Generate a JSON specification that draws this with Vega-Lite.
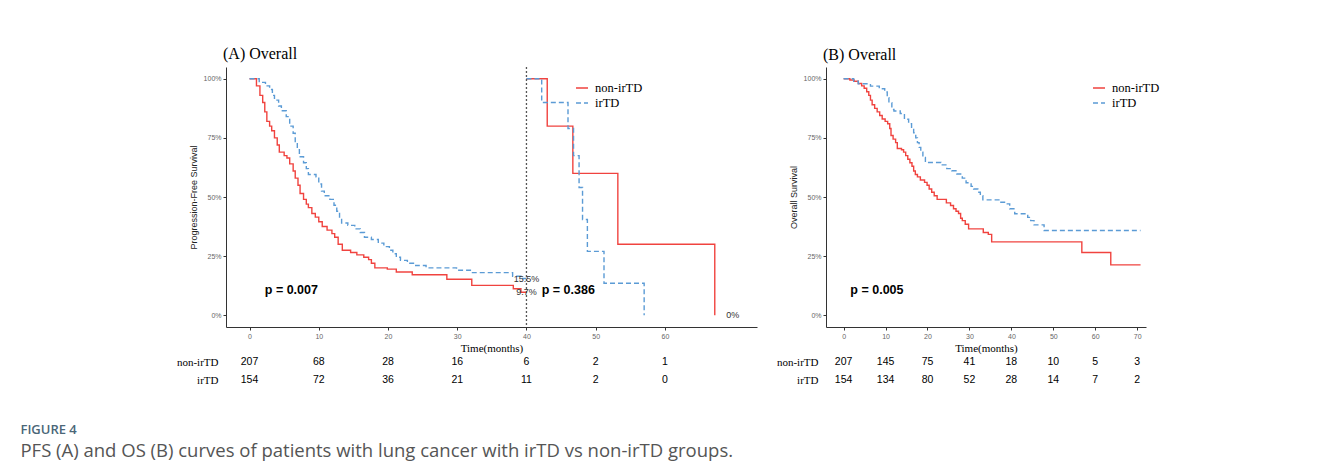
{
  "$schema": "https://vega.github.io/schema/vega-lite/v6.json",
  "padding": {"left": 20, "top": 46, "right": 5, "bottom": 5},
  "background": "white",
  "config": {
    "view": {"stroke": null},
    "axis": {
      "grid": false,
      "domainColor": "#333333",
      "tickColor": "#333333",
      "tickSize": 3,
      "labelColor": "#666666",
      "labelFont": "Liberation Sans",
      "labelFontSize": 7,
      "labelPadding": 2,
      "titleFont": "Liberation Sans",
      "titleFontSize": 9,
      "titleFontWeight": "normal",
      "titleColor": "#222222"
    }
  },
  "title": {
    "text": "FIGURE 4",
    "subtitle": "PFS (A) and OS (B) curves of patients with lung cancer with irTD vs non-irTD groups.",
    "orient": "bottom",
    "anchor": "start",
    "dx": -156,
    "offset": 35,
    "font": "Open Sans",
    "fontSize": 13,
    "fontWeight": 600,
    "color": "#4b6778",
    "subtitleFont": "Open Sans",
    "subtitleFontSize": 18.5,
    "subtitleColor": "#555555",
    "subtitlePadding": 5
  },
  "datasets": {
    "kmA": [
      {"group": "non-irTD", "seg": "A1n", "t": 0, "s": 1.0},
      {"group": "non-irTD", "seg": "A1n", "t": 1.0, "s": 0.97},
      {"group": "non-irTD", "seg": "A1n", "t": 1.5, "s": 0.93},
      {"group": "non-irTD", "seg": "A1n", "t": 1.9, "s": 0.90},
      {"group": "non-irTD", "seg": "A1n", "t": 2.2, "s": 0.86},
      {"group": "non-irTD", "seg": "A1n", "t": 2.5, "s": 0.82},
      {"group": "non-irTD", "seg": "A1n", "t": 2.9, "s": 0.80},
      {"group": "non-irTD", "seg": "A1n", "t": 3.2, "s": 0.78},
      {"group": "non-irTD", "seg": "A1n", "t": 3.6, "s": 0.75},
      {"group": "non-irTD", "seg": "A1n", "t": 4.0, "s": 0.72},
      {"group": "non-irTD", "seg": "A1n", "t": 4.3, "s": 0.69},
      {"group": "non-irTD", "seg": "A1n", "t": 5.0, "s": 0.675},
      {"group": "non-irTD", "seg": "A1n", "t": 5.4, "s": 0.665},
      {"group": "non-irTD", "seg": "A1n", "t": 5.8, "s": 0.64},
      {"group": "non-irTD", "seg": "A1n", "t": 6.3, "s": 0.61},
      {"group": "non-irTD", "seg": "A1n", "t": 6.6, "s": 0.58},
      {"group": "non-irTD", "seg": "A1n", "t": 7.0, "s": 0.55},
      {"group": "non-irTD", "seg": "A1n", "t": 7.3, "s": 0.515},
      {"group": "non-irTD", "seg": "A1n", "t": 7.8, "s": 0.49},
      {"group": "non-irTD", "seg": "A1n", "t": 8.2, "s": 0.47},
      {"group": "non-irTD", "seg": "A1n", "t": 8.5, "s": 0.455},
      {"group": "non-irTD", "seg": "A1n", "t": 9.0, "s": 0.43},
      {"group": "non-irTD", "seg": "A1n", "t": 9.5, "s": 0.415},
      {"group": "non-irTD", "seg": "A1n", "t": 10.0, "s": 0.395},
      {"group": "non-irTD", "seg": "A1n", "t": 10.5, "s": 0.375},
      {"group": "non-irTD", "seg": "A1n", "t": 11.2, "s": 0.36},
      {"group": "non-irTD", "seg": "A1n", "t": 11.9, "s": 0.345},
      {"group": "non-irTD", "seg": "A1n", "t": 12.3, "s": 0.33},
      {"group": "non-irTD", "seg": "A1n", "t": 12.8, "s": 0.30},
      {"group": "non-irTD", "seg": "A1n", "t": 13.4, "s": 0.275},
      {"group": "non-irTD", "seg": "A1n", "t": 14.6, "s": 0.265},
      {"group": "non-irTD", "seg": "A1n", "t": 15.5, "s": 0.255},
      {"group": "non-irTD", "seg": "A1n", "t": 16.5, "s": 0.245},
      {"group": "non-irTD", "seg": "A1n", "t": 17.2, "s": 0.235},
      {"group": "non-irTD", "seg": "A1n", "t": 17.6, "s": 0.22},
      {"group": "non-irTD", "seg": "A1n", "t": 18.1, "s": 0.20},
      {"group": "non-irTD", "seg": "A1n", "t": 19.9, "s": 0.195},
      {"group": "non-irTD", "seg": "A1n", "t": 21.2, "s": 0.183},
      {"group": "non-irTD", "seg": "A1n", "t": 23.5, "s": 0.171},
      {"group": "non-irTD", "seg": "A1n", "t": 28.5, "s": 0.152},
      {"group": "non-irTD", "seg": "A1n", "t": 32.1, "s": 0.126},
      {"group": "non-irTD", "seg": "A1n", "t": 38.1, "s": 0.112},
      {"group": "non-irTD", "seg": "A1n", "t": 39.2, "s": 0.097},
      {"group": "non-irTD", "seg": "A1n", "t": 40, "s": 0.097},
      {"group": "irTD", "seg": "A1i", "t": 0, "s": 1.0},
      {"group": "irTD", "seg": "A1i", "t": 1.4, "s": 0.985},
      {"group": "irTD", "seg": "A1i", "t": 2.3, "s": 0.97},
      {"group": "irTD", "seg": "A1i", "t": 2.9, "s": 0.955},
      {"group": "irTD", "seg": "A1i", "t": 3.3, "s": 0.93},
      {"group": "irTD", "seg": "A1i", "t": 3.6, "s": 0.91},
      {"group": "irTD", "seg": "A1i", "t": 4.2, "s": 0.885},
      {"group": "irTD", "seg": "A1i", "t": 4.6, "s": 0.865},
      {"group": "irTD", "seg": "A1i", "t": 5.3, "s": 0.84},
      {"group": "irTD", "seg": "A1i", "t": 5.8, "s": 0.80},
      {"group": "irTD", "seg": "A1i", "t": 6.3, "s": 0.77},
      {"group": "irTD", "seg": "A1i", "t": 6.6, "s": 0.73},
      {"group": "irTD", "seg": "A1i", "t": 6.9, "s": 0.70},
      {"group": "irTD", "seg": "A1i", "t": 7.2, "s": 0.67},
      {"group": "irTD", "seg": "A1i", "t": 7.8, "s": 0.645},
      {"group": "irTD", "seg": "A1i", "t": 8.2, "s": 0.62},
      {"group": "irTD", "seg": "A1i", "t": 8.5, "s": 0.595},
      {"group": "irTD", "seg": "A1i", "t": 9.6, "s": 0.585},
      {"group": "irTD", "seg": "A1i", "t": 10.0, "s": 0.555},
      {"group": "irTD", "seg": "A1i", "t": 10.4, "s": 0.525},
      {"group": "irTD", "seg": "A1i", "t": 10.8, "s": 0.505},
      {"group": "irTD", "seg": "A1i", "t": 11.6, "s": 0.49},
      {"group": "irTD", "seg": "A1i", "t": 12.2, "s": 0.465},
      {"group": "irTD", "seg": "A1i", "t": 12.6, "s": 0.44},
      {"group": "irTD", "seg": "A1i", "t": 13.0, "s": 0.41},
      {"group": "irTD", "seg": "A1i", "t": 13.3, "s": 0.39},
      {"group": "irTD", "seg": "A1i", "t": 14.2, "s": 0.38},
      {"group": "irTD", "seg": "A1i", "t": 15.2, "s": 0.365},
      {"group": "irTD", "seg": "A1i", "t": 16.0, "s": 0.35},
      {"group": "irTD", "seg": "A1i", "t": 16.6, "s": 0.33},
      {"group": "irTD", "seg": "A1i", "t": 17.6, "s": 0.32},
      {"group": "irTD", "seg": "A1i", "t": 18.6, "s": 0.305},
      {"group": "irTD", "seg": "A1i", "t": 19.4, "s": 0.29},
      {"group": "irTD", "seg": "A1i", "t": 20.2, "s": 0.275},
      {"group": "irTD", "seg": "A1i", "t": 20.7, "s": 0.26},
      {"group": "irTD", "seg": "A1i", "t": 21.2, "s": 0.245},
      {"group": "irTD", "seg": "A1i", "t": 21.8, "s": 0.232},
      {"group": "irTD", "seg": "A1i", "t": 22.8, "s": 0.22},
      {"group": "irTD", "seg": "A1i", "t": 24.0, "s": 0.21},
      {"group": "irTD", "seg": "A1i", "t": 25.5, "s": 0.20},
      {"group": "irTD", "seg": "A1i", "t": 29.9, "s": 0.19},
      {"group": "irTD", "seg": "A1i", "t": 32.2, "s": 0.18},
      {"group": "irTD", "seg": "A1i", "t": 38.0, "s": 0.165},
      {"group": "irTD", "seg": "A1i", "t": 39.2, "s": 0.155},
      {"group": "irTD", "seg": "A1i", "t": 40, "s": 0.155},
      {"group": "non-irTD", "seg": "A2n", "t": 40, "s": 1.0},
      {"group": "non-irTD", "seg": "A2n", "t": 43.0, "s": 0.80},
      {"group": "non-irTD", "seg": "A2n", "t": 46.7, "s": 0.60},
      {"group": "non-irTD", "seg": "A2n", "t": 53.2, "s": 0.30},
      {"group": "non-irTD", "seg": "A2n", "t": 67.2, "s": 0.0},
      {"group": "irTD", "seg": "A2i", "t": 40, "s": 1.0},
      {"group": "irTD", "seg": "A2i", "t": 42.2, "s": 0.90},
      {"group": "irTD", "seg": "A2i", "t": 46.0, "s": 0.79},
      {"group": "irTD", "seg": "A2i", "t": 46.8, "s": 0.675},
      {"group": "irTD", "seg": "A2i", "t": 47.6, "s": 0.54},
      {"group": "irTD", "seg": "A2i", "t": 48.1, "s": 0.405},
      {"group": "irTD", "seg": "A2i", "t": 48.8, "s": 0.27},
      {"group": "irTD", "seg": "A2i", "t": 51.2, "s": 0.135},
      {"group": "irTD", "seg": "A2i", "t": 57.0, "s": 0.0}
    ],
    "kmB": [
      {"group": "non-irTD", "t": 0, "s": 1.0},
      {"group": "non-irTD", "t": 1.5, "s": 0.995},
      {"group": "non-irTD", "t": 2.5, "s": 0.99},
      {"group": "non-irTD", "t": 3.5, "s": 0.98},
      {"group": "non-irTD", "t": 4.3, "s": 0.97},
      {"group": "non-irTD", "t": 4.9, "s": 0.96},
      {"group": "non-irTD", "t": 5.5, "s": 0.945},
      {"group": "non-irTD", "t": 6.0, "s": 0.93},
      {"group": "non-irTD", "t": 6.4, "s": 0.91},
      {"group": "non-irTD", "t": 6.8, "s": 0.89},
      {"group": "non-irTD", "t": 7.4, "s": 0.875},
      {"group": "non-irTD", "t": 8.0, "s": 0.86},
      {"group": "non-irTD", "t": 8.6, "s": 0.845},
      {"group": "non-irTD", "t": 9.2, "s": 0.83},
      {"group": "non-irTD", "t": 9.9, "s": 0.82},
      {"group": "non-irTD", "t": 10.5, "s": 0.81},
      {"group": "non-irTD", "t": 11.0, "s": 0.79},
      {"group": "non-irTD", "t": 11.3, "s": 0.76},
      {"group": "non-irTD", "t": 11.8, "s": 0.745},
      {"group": "non-irTD", "t": 12.4, "s": 0.73},
      {"group": "non-irTD", "t": 12.8, "s": 0.705},
      {"group": "non-irTD", "t": 13.8, "s": 0.70},
      {"group": "non-irTD", "t": 14.3, "s": 0.69},
      {"group": "non-irTD", "t": 14.8, "s": 0.675},
      {"group": "non-irTD", "t": 15.3, "s": 0.66},
      {"group": "non-irTD", "t": 15.8, "s": 0.645},
      {"group": "non-irTD", "t": 16.3, "s": 0.63},
      {"group": "non-irTD", "t": 16.7, "s": 0.61},
      {"group": "non-irTD", "t": 17.1, "s": 0.595},
      {"group": "non-irTD", "t": 17.6, "s": 0.585},
      {"group": "non-irTD", "t": 18.3, "s": 0.572},
      {"group": "non-irTD", "t": 19.3, "s": 0.562},
      {"group": "non-irTD", "t": 19.9, "s": 0.55},
      {"group": "non-irTD", "t": 20.4, "s": 0.534},
      {"group": "non-irTD", "t": 21.0, "s": 0.52},
      {"group": "non-irTD", "t": 21.6, "s": 0.505},
      {"group": "non-irTD", "t": 22.3, "s": 0.49},
      {"group": "non-irTD", "t": 24.5, "s": 0.475},
      {"group": "non-irTD", "t": 25.5, "s": 0.464},
      {"group": "non-irTD", "t": 26.2, "s": 0.45},
      {"group": "non-irTD", "t": 26.8, "s": 0.44},
      {"group": "non-irTD", "t": 27.4, "s": 0.43},
      {"group": "non-irTD", "t": 27.9, "s": 0.41},
      {"group": "non-irTD", "t": 28.3, "s": 0.40},
      {"group": "non-irTD", "t": 29.0, "s": 0.385},
      {"group": "non-irTD", "t": 29.8, "s": 0.365},
      {"group": "non-irTD", "t": 33.3, "s": 0.35},
      {"group": "non-irTD", "t": 34.5, "s": 0.342},
      {"group": "non-irTD", "t": 35.3, "s": 0.31},
      {"group": "non-irTD", "t": 56.8, "s": 0.265},
      {"group": "non-irTD", "t": 63.7, "s": 0.213},
      {"group": "non-irTD", "t": 70.8, "s": 0.213},
      {"group": "irTD", "t": 0, "s": 1.0},
      {"group": "irTD", "t": 2.4, "s": 0.99},
      {"group": "irTD", "t": 3.5, "s": 0.979},
      {"group": "irTD", "t": 6.4, "s": 0.969},
      {"group": "irTD", "t": 8.5, "s": 0.958},
      {"group": "irTD", "t": 9.8, "s": 0.944},
      {"group": "irTD", "t": 10.4, "s": 0.92},
      {"group": "irTD", "t": 10.8, "s": 0.899},
      {"group": "irTD", "t": 11.5, "s": 0.87},
      {"group": "irTD", "t": 12.0, "s": 0.864},
      {"group": "irTD", "t": 13.5, "s": 0.853},
      {"group": "irTD", "t": 14.5, "s": 0.829},
      {"group": "irTD", "t": 15.5, "s": 0.81},
      {"group": "irTD", "t": 16.2, "s": 0.79},
      {"group": "irTD", "t": 16.7, "s": 0.772},
      {"group": "irTD", "t": 17.2, "s": 0.75},
      {"group": "irTD", "t": 17.6, "s": 0.73},
      {"group": "irTD", "t": 18.0, "s": 0.71},
      {"group": "irTD", "t": 18.4, "s": 0.69},
      {"group": "irTD", "t": 18.9, "s": 0.667},
      {"group": "irTD", "t": 19.5, "s": 0.646},
      {"group": "irTD", "t": 23.2, "s": 0.636},
      {"group": "irTD", "t": 24.6, "s": 0.62},
      {"group": "irTD", "t": 25.8, "s": 0.611},
      {"group": "irTD", "t": 27.0, "s": 0.597},
      {"group": "irTD", "t": 28.3, "s": 0.58},
      {"group": "irTD", "t": 29.2, "s": 0.56},
      {"group": "irTD", "t": 30.4, "s": 0.545},
      {"group": "irTD", "t": 31.0, "s": 0.534},
      {"group": "irTD", "t": 32.0, "s": 0.52},
      {"group": "irTD", "t": 32.6, "s": 0.506},
      {"group": "irTD", "t": 33.2, "s": 0.488},
      {"group": "irTD", "t": 37.5, "s": 0.478},
      {"group": "irTD", "t": 38.6, "s": 0.471},
      {"group": "irTD", "t": 39.6, "s": 0.45},
      {"group": "irTD", "t": 40.8, "s": 0.429},
      {"group": "irTD", "t": 43.9, "s": 0.414},
      {"group": "irTD", "t": 44.6, "s": 0.40},
      {"group": "irTD", "t": 45.4, "s": 0.382},
      {"group": "irTD", "t": 47.8, "s": 0.358},
      {"group": "irTD", "t": 70.8, "s": 0.358}
    ],
    "riskA": [
      {"group": "non-irTD", "t": 0, "n": 207},
      {"group": "non-irTD", "t": 10, "n": 68},
      {"group": "non-irTD", "t": 20, "n": 28},
      {"group": "non-irTD", "t": 30, "n": 16},
      {"group": "non-irTD", "t": 40, "n": 6},
      {"group": "non-irTD", "t": 50, "n": 2},
      {"group": "non-irTD", "t": 60, "n": 1},
      {"group": "irTD", "t": 0, "n": 154},
      {"group": "irTD", "t": 10, "n": 72},
      {"group": "irTD", "t": 20, "n": 36},
      {"group": "irTD", "t": 30, "n": 21},
      {"group": "irTD", "t": 40, "n": 11},
      {"group": "irTD", "t": 50, "n": 2},
      {"group": "irTD", "t": 60, "n": 0}
    ],
    "riskB": [
      {"group": "non-irTD", "t": 0, "n": 207},
      {"group": "non-irTD", "t": 10, "n": 145},
      {"group": "non-irTD", "t": 20, "n": 75},
      {"group": "non-irTD", "t": 30, "n": 41},
      {"group": "non-irTD", "t": 40, "n": 18},
      {"group": "non-irTD", "t": 50, "n": 10},
      {"group": "non-irTD", "t": 60, "n": 5},
      {"group": "non-irTD", "t": 70, "n": 3},
      {"group": "irTD", "t": 0, "n": 154},
      {"group": "irTD", "t": 10, "n": 134},
      {"group": "irTD", "t": 20, "n": 80},
      {"group": "irTD", "t": 30, "n": 52},
      {"group": "irTD", "t": 40, "n": 28},
      {"group": "irTD", "t": 50, "n": 14},
      {"group": "irTD", "t": 60, "n": 7},
      {"group": "irTD", "t": 70, "n": 2}
    ]
  },
  "spacing": 19,
  "resolve": {
    "scale": {"color": "independent", "strokeDash": "independent"},
    "legend": {"color": "independent", "strokeDash": "independent"}
  },
  "hconcat": [
    {
      "spacing": 0,
      "resolve": {"legend": {"color": "independent", "strokeDash": "independent"}},
      "vconcat": [
        {
          "width": 531,
          "height": 260,
          "title": {"text": "(A) Overall", "anchor": "start", "frame": "group", "font": "Liberation Serif", "fontSize": 16, "fontWeight": "normal", "color": "black", "offset": 4, "dx": -3},
          "layer": [
            {
              "data": {"name": "kmA"},
              "mark": {"type": "line", "interpolate": "step-after", "strokeWidth": 1.4},
              "encoding": {
                "x": {"field": "t", "type": "quantitative", "scale": {"domain": [-3.4, 73.3], "nice": false, "zero": false},
                      "axis": {"values": [0, 10, 20, 30, 40, 50, 60], "title": "Time(months)", "titleFont": "Liberation Serif", "titleFontSize": 11, "titleColor": "black", "titlePadding": 3}},
                "y": {"field": "s", "type": "quantitative", "scale": {"domain": [-0.05, 1.05], "nice": false},
                      "axis": {"values": [0, 0.25, 0.5, 0.75, 1], "format": ".0%", "title": "Progression-Free Survival", "titlePadding": 5}},
                "color": {"field": "group", "type": "nominal", "scale": {"domain": ["non-irTD", "irTD"], "range": ["#F0433F", "#5B9BD5"]},
                          "legend": {"title": null, "orient": "none", "legendX": 349, "legendY": 14, "labelFont": "Liberation Serif", "labelFontSize": 12.5, "labelColor": "black", "symbolType": "stroke", "symbolSize": 144, "symbolStrokeWidth": 1.5, "rowPadding": 1, "labelOffset": 6}},
                "strokeDash": {"field": "group", "type": "nominal", "scale": {"domain": ["non-irTD", "irTD"], "range": [[1, 0], [5, 3]]},
                          "legend": {"title": null, "orient": "none", "legendX": 349, "legendY": 14, "labelFont": "Liberation Serif", "labelFontSize": 12.5, "labelColor": "black", "symbolType": "stroke", "symbolSize": 144, "symbolStrokeWidth": 1.5, "rowPadding": 1, "labelOffset": 6}},
                "detail": {"field": "seg"}
              }
            },
            {
              "data": {"values": [{}]},
              "mark": {"type": "rule", "strokeDash": [2, 2], "color": "#555555", "strokeWidth": 1.3},
              "encoding": {"x": {"datum": 40}}
            },
            {
              "data": {"values": [{}]},
              "mark": {"type": "text", "text": "p =  0.007", "font": "Liberation Sans", "fontWeight": "bold", "fontSize": 12.5, "align": "left", "color": "black"},
              "encoding": {"x": {"datum": 2.2}, "y": {"datum": 0.108}}
            },
            {
              "data": {"values": [{}]},
              "mark": {"type": "text", "text": "p =  0.386", "font": "Liberation Sans", "fontWeight": "bold", "fontSize": 12.5, "align": "left", "color": "black"},
              "encoding": {"x": {"datum": 42.2}, "y": {"datum": 0.108}}
            },
            {
              "data": {"values": [{}]},
              "mark": {"type": "text", "text": "15.5%", "font": "Liberation Sans", "fontSize": 9, "align": "center", "color": "#333333"},
              "encoding": {"x": {"datum": 40}, "y": {"datum": 0.155}}
            },
            {
              "data": {"values": [{}]},
              "mark": {"type": "text", "text": "9.7%", "font": "Liberation Sans", "fontSize": 9, "align": "center", "color": "#333333"},
              "encoding": {"x": {"datum": 40}, "y": {"datum": 0.097}}
            },
            {
              "data": {"values": [{}]},
              "mark": {"type": "text", "text": "0%", "font": "Liberation Sans", "fontSize": 9, "align": "center", "color": "#333333"},
              "encoding": {"x": {"datum": 69.8}, "y": {"datum": 0}}
            }
          ]
        },
        {
          "data": {"name": "riskA"},
          "width": 531,
          "height": 36,
          "mark": {"type": "text", "font": "Liberation Sans", "fontSize": 10.5, "color": "black"},
          "encoding": {
            "x": {"field": "t", "type": "quantitative", "scale": {"domain": [-3.4, 73.3], "nice": false, "zero": false}, "axis": null},
            "y": {"field": "group", "type": "nominal", "sort": ["non-irTD", "irTD"],
                  "axis": {"title": null, "domain": false, "ticks": false, "labelFont": "Liberation Serif", "labelFontSize": 11, "labelColor": "black", "labelPadding": 8}},
            "text": {"field": "n", "type": "quantitative"}
          }
        }
      ]
    },
    {
      "spacing": 0,
      "resolve": {"legend": {"color": "independent", "strokeDash": "independent"}},
      "vconcat": [
        {
          "width": 320,
          "height": 260,
          "title": {"text": "(B) Overall", "anchor": "start", "frame": "group", "font": "Liberation Serif", "fontSize": 16, "fontWeight": "normal", "color": "black", "offset": 4, "dx": -3},
          "layer": [
            {
              "data": {"name": "kmB"},
              "mark": {"type": "line", "interpolate": "step-after", "strokeWidth": 1.4},
              "encoding": {
                "x": {"field": "t", "type": "quantitative", "scale": {"domain": [-4.2, 72.1], "nice": false, "zero": false},
                      "axis": {"values": [0, 10, 20, 30, 40, 50, 60, 70], "title": "Time(months)", "titleFont": "Liberation Serif", "titleFontSize": 11, "titleColor": "black", "titlePadding": 3}},
                "y": {"field": "s", "type": "quantitative", "scale": {"domain": [-0.05, 1.05], "nice": false},
                      "axis": {"values": [0, 0.25, 0.5, 0.75, 1], "format": ".0%", "title": "Overall Survival", "titlePadding": 5}},
                "color": {"field": "group", "type": "nominal", "scale": {"domain": ["non-irTD", "irTD"], "range": ["#F0433F", "#5B9BD5"]},
                          "legend": {"title": null, "orient": "none", "legendX": 266, "legendY": 14, "labelFont": "Liberation Serif", "labelFontSize": 12.5, "labelColor": "black", "symbolType": "stroke", "symbolSize": 144, "symbolStrokeWidth": 1.5, "rowPadding": 1, "labelOffset": 6}},
                "strokeDash": {"field": "group", "type": "nominal", "scale": {"domain": ["non-irTD", "irTD"], "range": [[1, 0], [5, 3]]},
                          "legend": {"title": null, "orient": "none", "legendX": 266, "legendY": 14, "labelFont": "Liberation Serif", "labelFontSize": 12.5, "labelColor": "black", "symbolType": "stroke", "symbolSize": 144, "symbolStrokeWidth": 1.5, "rowPadding": 1, "labelOffset": 6}}
              }
            },
            {
              "data": {"values": [{}]},
              "mark": {"type": "text", "text": "p =  0.005", "font": "Liberation Sans", "fontWeight": "bold", "fontSize": 12.5, "align": "left", "color": "black"},
              "encoding": {"x": {"datum": 1.6}, "y": {"datum": 0.108}}
            }
          ]
        },
        {
          "data": {"name": "riskB"},
          "width": 320,
          "height": 36,
          "mark": {"type": "text", "font": "Liberation Sans", "fontSize": 10.5, "color": "black"},
          "encoding": {
            "x": {"field": "t", "type": "quantitative", "scale": {"domain": [-4.2, 72.1], "nice": false, "zero": false}, "axis": null},
            "y": {"field": "group", "type": "nominal", "sort": ["non-irTD", "irTD"],
                  "axis": {"title": null, "domain": false, "ticks": false, "labelFont": "Liberation Serif", "labelFontSize": 11, "labelColor": "black", "labelPadding": 8}},
            "text": {"field": "n", "type": "quantitative"}
          }
        }
      ]
    }
  ]
}
